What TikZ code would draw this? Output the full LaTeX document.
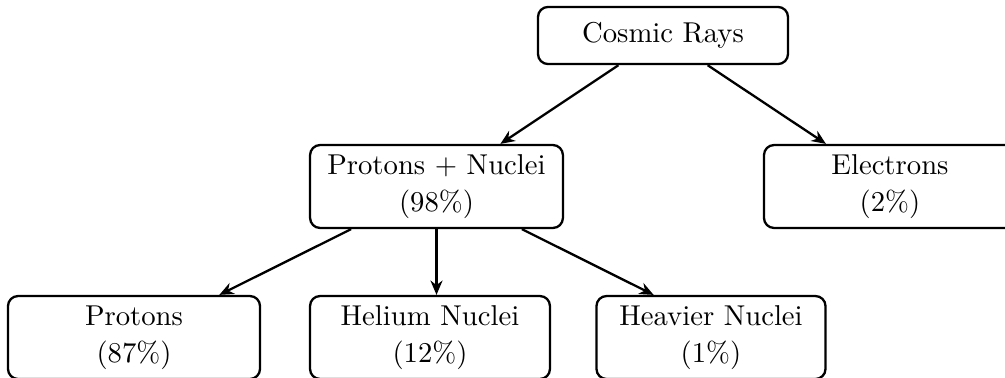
\documentclass[tikz,border=0pt]{standalone}
\usetikzlibrary{arrows.meta,calc}
\begin{document}
\begin{tikzpicture}[x=0.3484pt,y=-0.3484pt,
  box/.style={draw,thick,rounded corners=3.5pt,align=center,inner sep=0pt,minimum height=28.9pt},
  arr/.style={thick,-{Stealth[length=5pt,width=4.2pt]}}]
\clip (0,0) rectangle (1005,377);
\node[box,minimum width=87.1pt,minimum height=19.9pt] (cr) at (663,35.5) {Cosmic Rays};
\node[box,minimum width=88.1pt] (pn) at (436.5,186.5) {Protons + Nuclei\\[1pt](98\%)};
\node[box,minimum width=87.8pt] (el) at (890,186.5) {Electrons\\[1pt](2\%)};
\node[box,minimum width=87.8pt] (pr) at (134,337.5) {Protons\\[1pt](87\%)};
\node[box,minimum width=83.6pt] (he) at (430,337.5) {Helium Nuclei\\[1pt](12\%)};
\node[box,minimum width=79.8pt] (hv) at (711,337.5) {Heavier Nuclei\\[1pt](1\%)};
\coordinate (hvt) at (739,337.5);
\draw[arr] (cr) -- (pn);
\draw[arr] (cr) -- (el);
\draw[arr] (pn) -- (pr);
\draw[arr] (pn.south) -- (pn.south |- he.north);
\draw[arr] (pn) -- (intersection of pn--hvt and hv.north west--hv.north east);
\end{tikzpicture}
\end{document}
